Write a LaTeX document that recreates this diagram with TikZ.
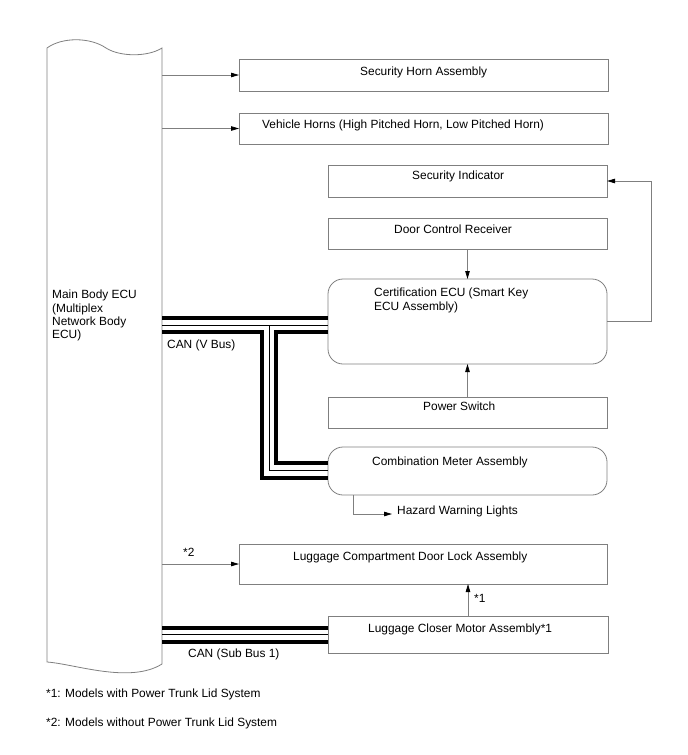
\documentclass[tikz,border=0pt]{standalone}
\usepackage{fontspec}
\setmainfont{Liberation Sans}
\usetikzlibrary{arrows.meta,calc}
\definecolor{wiregray}{HTML}{7F7F7F}

\begin{document}
\begin{tikzpicture}[x=1pt,y=-1pt,
  blk/.style={draw=wiregray,line width=.8pt,inner sep=0pt,outer sep=0pt},
  rblk/.style={blk,rounded corners=15pt},
  lbl/.style={font=\fontsize{11.9}{13.3}\selectfont,inner sep=0pt,anchor=base west},
  wire/.style={draw=wiregray,line width=.8pt},
  arr/.style={wire,-{Triangle[length=8pt,width=4.5pt,color=black]}},
  bus/.style={line width=4pt},
  busthin/.style={line width=1pt}]
  \useasboundingbox (0,0) rectangle (688,755);
  \node[minimum width=115pt,minimum height=615pt,inner sep=0pt,outer sep=0pt] (ecu) at (104.5,355.5) {};
  \draw[wire] (47,48) .. controls (62,37) and (90,37) .. (106,48)
    .. controls (120,57) and (148,57) .. (162,48) -- (162,664)
    .. controls (130,684) and (75,664) .. (47,662) -- cycle;
  \node[lbl,align=left,anchor=north west] at (52,290)
    {Main Body ECU\\(Multiplex\\Network Body\\ECU)};
  \node[blk,minimum width=369pt,minimum height=32pt] (shn) at (423.5,75) {};
  \node[lbl] at ($(shn.north west)+(121,16)$) {Security Horn Assembly};
  \node[blk,minimum width=369pt,minimum height=31pt] (vh) at (423.5,128.5) {};
  \node[lbl] at ($(vh.north west)+(23,15)$) {Vehicle Horns (High Pitched Horn, Low Pitched Horn)};
  \node[blk,minimum width=279pt,minimum height=32pt] (shi) at (467.5,181) {};
  \node[lbl] at ($(shi.north west)+(84,14)$) {Security Indicator};
  \node[blk,minimum width=279pt,minimum height=31pt] (dcr) at (467.5,233.5) {};
  \node[lbl] at ($(dcr.north west)+(66,15)$) {Door Control Receiver};
  \node[rblk,minimum width=279pt,minimum height=85pt] (cert) at (467.5,321.5) {};
  \node[lbl,align=left,anchor=north west] at ($(cert.north west)+(46,9)$)
    {Certification ECU (Smart Key\\ECU Assembly)};
  \node[blk,minimum width=279pt,minimum height=31pt] (psw) at (467.5,412.5) {};
  \node[lbl] at ($(psw.north west)+(95,13)$) {Power Switch};
  \node[rblk,minimum width=279pt,minimum height=48pt] (cmb) at (467.5,471) {};
  \node[lbl] at ($(cmb.north west)+(44,18)$) {Combination Meter Assembly};
  \node[lbl] (haz) at (397,514) {Hazard Warning Lights};
  \node[blk,minimum width=368pt,minimum height=40pt] (ldl) at (423,564) {};
  \node[lbl] at ($(ldl.north west)+(54,16)$) {Luggage Compartment Door Lock Assembly};
  \node[blk,minimum width=280pt,minimum height=37pt] (lcm) at (468,634.5) {};
  \node[lbl] at ($(lcm.north west)+(40,16)$) {Luggage Closer Motor Assembly*1};
  \node[lbl] at (183,556) {*2};
  \node[lbl] at (474,602) {*1};
  \node[lbl] at (167,348) {CAN (V Bus)};
  \node[lbl] at (188,657) {CAN (Sub Bus 1)};
  \node[lbl] at (46,697) {*1: Models with Power Trunk Lid System};
  \node[lbl] at (46,726) {*2: Models without Power Trunk Lid System};
  \draw[arr] (ecu.east |- shn.west) -- (shn.west);
  \draw[arr] (ecu.east |- vh.west) -- (vh.west);
  \draw[arr] (ecu.east |- ldl.west) -- (ldl.west);
  \draw[arr] (dcr.south) -- (cert.north);
  \draw[arr] (psw.north) -- (cert.south);
  \draw[arr] (cert.east) -- ++(44,0) |- (shi.east);
  \draw[arr] ($(cmb.south west)+(25,0)$) |- ($(haz.base west)+(-5,0)$);
  \draw[arr] (lcm.north) -- (lcm.north |- ldl.south);
  \draw[bus] ($(ecu.east |- cert.west)+(0,-3.5)$) -- ($(cert.west)+(0,-3.5)$);
  \draw[busthin] ($(ecu.east |- cert.west)+(0,3.5)$) -- ($(cert.west)+(0,3.5)$);
  \draw[bus] ($(ecu.east |- cert.west)+(0,10.5)$) -| ($(cmb.west)+(-66,7)$) -- ($(cmb.west)+(0,7)$);
  \draw[busthin] ($(cert.west)+(-59,3.5)$) |- ($(cmb.west)+(0,-1)$);
  \draw[bus] ($(cert.west)+(0,10.5)$) -| ($(cmb.west)+(-52,-8)$) -- ($(cmb.west)+(0,-8)$);
  \draw[bus] ($(ecu.east |- lcm.west)+(0,-7)$) -- ($(lcm.west)+(0,-7)$);
  \draw[busthin] (ecu.east |- lcm.west) -- (lcm.west);
  \draw[bus] ($(ecu.east |- lcm.west)+(0,7)$) -- ($(lcm.west)+(0,7)$);
\end{tikzpicture}
\end{document}
